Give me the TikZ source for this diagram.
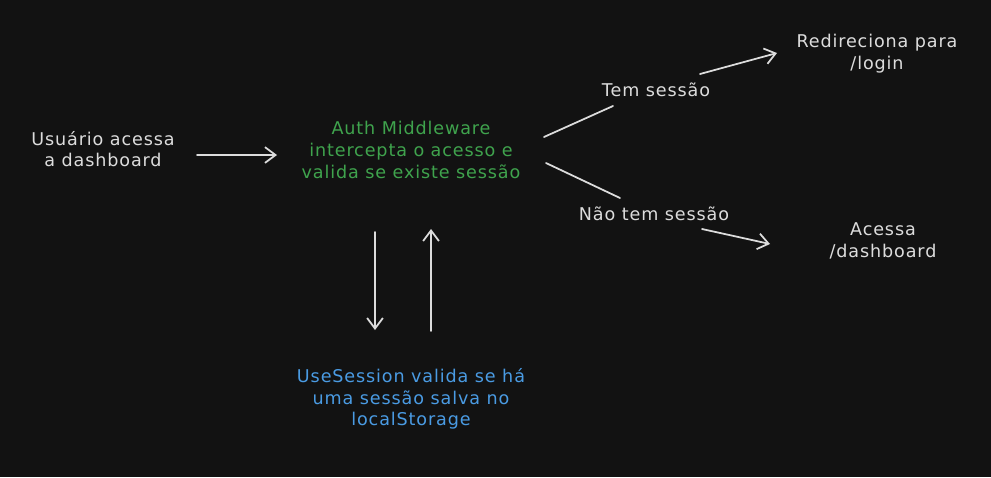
\documentclass[tikz,border=0pt]{standalone}
\usepackage{fontspec}
\setmainfont{DejaVu Sans}[LetterSpace=5]
\usetikzlibrary{arrows.meta}
\definecolor{bg}{HTML}{121212}
\definecolor{ink}{HTML}{DCDCDC}
\definecolor{grn}{HTML}{3FA34D}
\definecolor{blu}{HTML}{4A9BE3}
\tikzset{
  txt/.style={align=center, font=\fontsize{10}{12.4}\selectfont, text=ink, inner sep=0pt},
  conn/.style={draw=ink, line width=1pt, line cap=round},
  tip/.style={-{Straight Barb[length=6pt,width=9pt,line width=1pt]}}
}
\begin{document}
\begin{tikzpicture}[x=0.02cm,y=-0.02cm]
\fill[bg] (0,0) rectangle (991,477);
\useasboundingbox (0,0) rectangle (991,477);

\node[txt] (user) at (103,149) {Usuário acessa\\ a dashboard};
\node[txt, text=grn] (auth) at (411,150) {Auth Middleware\\intercepta o acesso e\\valida se existe sessão};
\node[txt, text=blu] (use) at (411,399) {UseSession valida se há\\uma sessão salva no\\localStorage};
\node[txt] (redir) at (877,54) {Redireciona para\\/login};
\node[txt] (dash) at (883,241) {Acessa\\/dashboard};
\node[txt] (tem) at (656,90) {Tem sessão};
\node[txt] (nao) at (654,214) {Não tem sessão};

\coordinate (u1) at (197,155);
\coordinate (u2) at (277,155);
\draw[conn,tip] (u1) -- (u2);

\coordinate (t1) at (544,137);
\coordinate (t2) at (613,106);
\coordinate (t3) at (700,74);
\coordinate (t4) at (777,53);
\draw[conn] (t1) -- (t2);
\draw[conn,tip] (t3) -- (t4);

\coordinate (n1) at (546,163);
\coordinate (n2) at (620,198);
\coordinate (n3) at (702,229);
\coordinate (n4) at (770,244);
\draw[conn] (n1) -- (n2);
\draw[conn,tip] (n3) -- (n4);

\coordinate (d1) at (375,232);
\coordinate (d2) at (375,330);
\draw[conn,tip] (d1) -- (d2);
\coordinate (p1) at (431,331);
\coordinate (p2) at (431,229);
\draw[conn,tip] (p1) -- (p2);
\end{tikzpicture}
\end{document}
